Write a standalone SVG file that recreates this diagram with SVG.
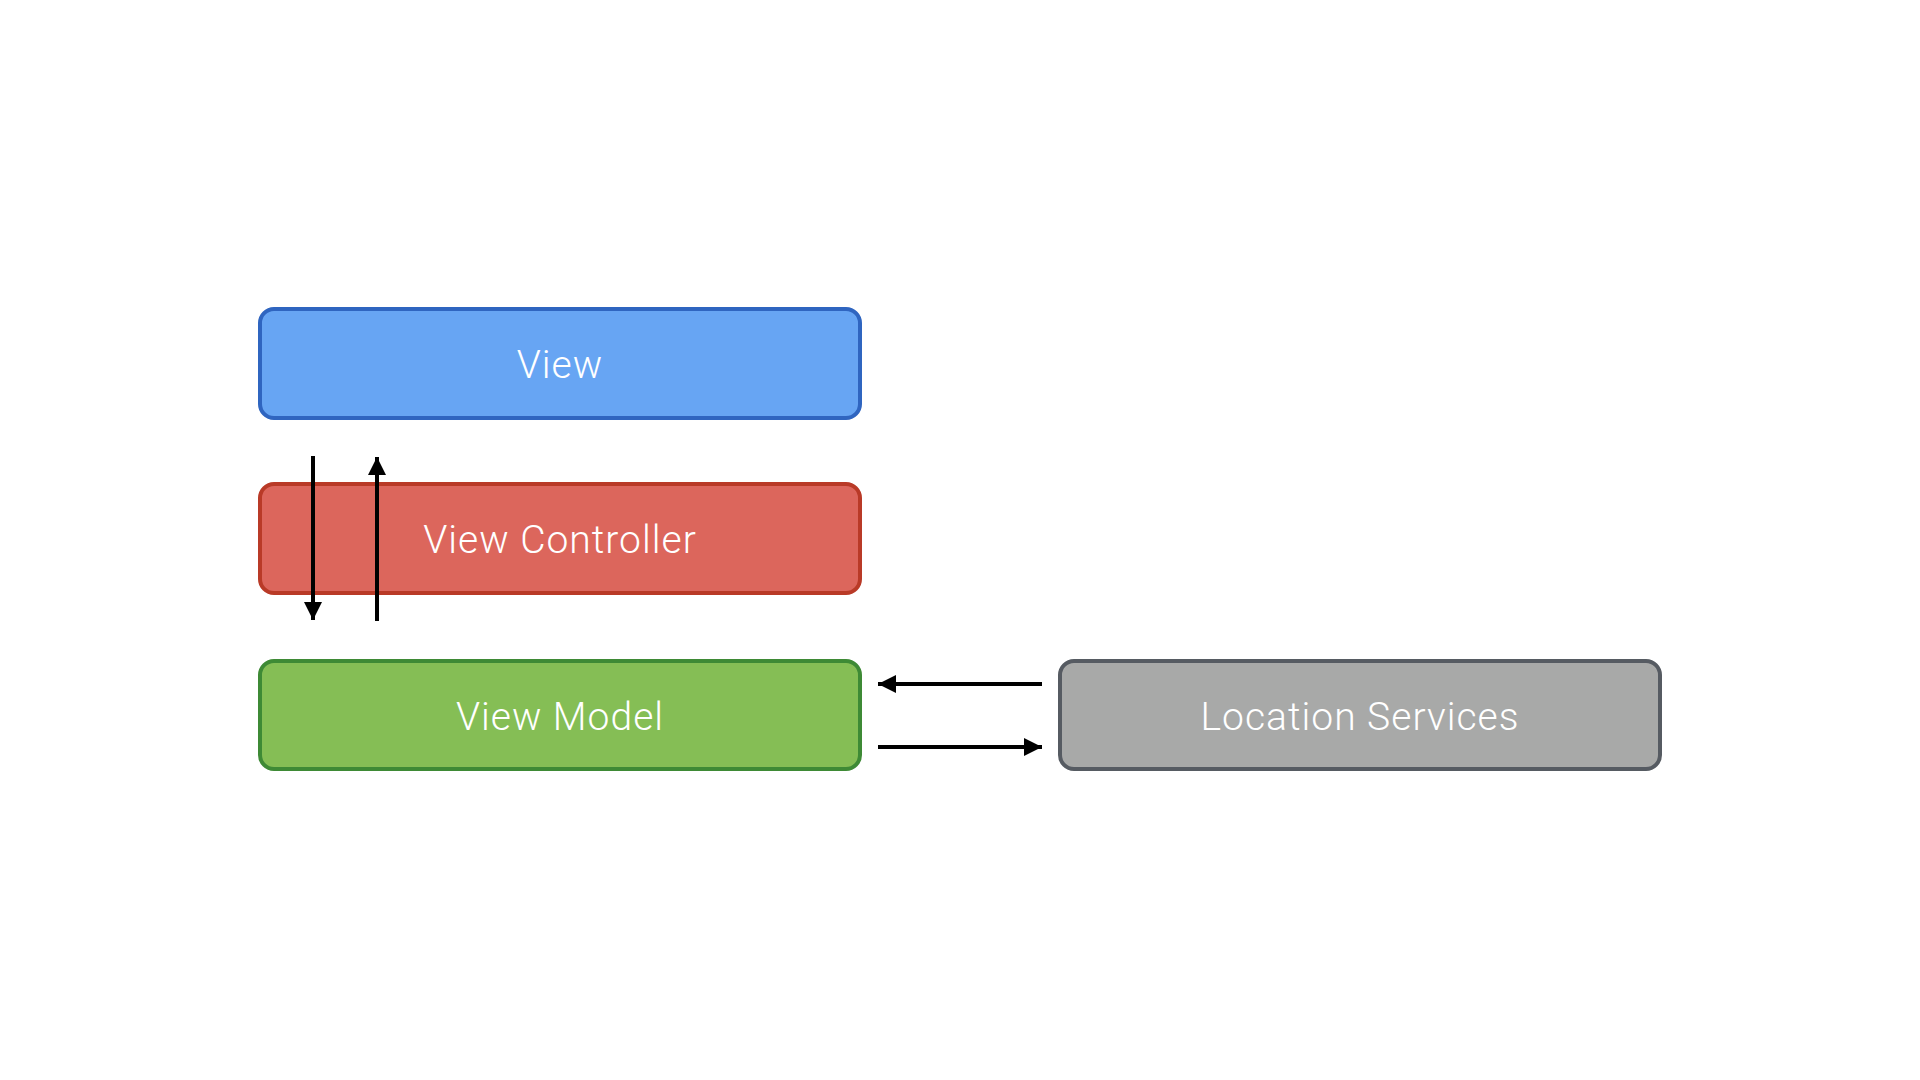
<svg xmlns="http://www.w3.org/2000/svg" width="1920" height="1080" viewBox="0 0 1920 1080">
  <defs>
    <style>
      .box { stroke-width: 4; }
      .label { font-family: Roboto, "Liberation Sans", sans-serif; font-weight: 300; font-size: 39px; letter-spacing: 1px; fill: #ffffff; text-anchor: middle; dominant-baseline: central; }
      .conn { stroke: #000000; stroke-width: 4; fill: none; marker-end: url(#arrow); }
    </style>
    <marker id="arrow" markerUnits="userSpaceOnUse" markerWidth="18" markerHeight="18" viewBox="0 0 16 16" refX="16" refY="8" orient="auto">
      <path d="M0,0 L16,8 L0,16 Z" fill="#000000"/>
    </marker>
  </defs>
  <rect width="1920" height="1080" fill="#ffffff"/>
  <g id="view">
    <rect class="box" x="260" y="309" width="600" height="109" rx="14" fill="#67A5F3" stroke="#2F65C0"/>
    <text class="label" x="560" y="365">View</text>
  </g>
  <g id="view-controller">
    <rect class="box" x="260" y="484" width="600" height="109" rx="14" fill="#DC665C" stroke="#B93A27"/>
    <text class="label" x="560" y="540">View Controller</text>
  </g>
  <g id="view-model">
    <rect class="box" x="260" y="661" width="600" height="108" rx="14" fill="#85BE55" stroke="#3E8A35"/>
    <text class="label" x="560" y="717">View Model</text>
  </g>
  <g id="location-services">
    <rect class="box" x="1060" y="661" width="600" height="108" rx="14" fill="#A8A9A8" stroke="#565B62"/>
    <text class="label" x="1360" y="717">Location Services</text>
  </g>
  <g id="connectors">
    <line class="conn" x1="313" y1="456" x2="313" y2="620"/>
    <line class="conn" x1="377" y1="621" x2="377" y2="457"/>
    <line class="conn" x1="1042" y1="684" x2="878" y2="684"/>
    <line class="conn" x1="878" y1="747" x2="1042" y2="747"/>
  </g>
</svg>
